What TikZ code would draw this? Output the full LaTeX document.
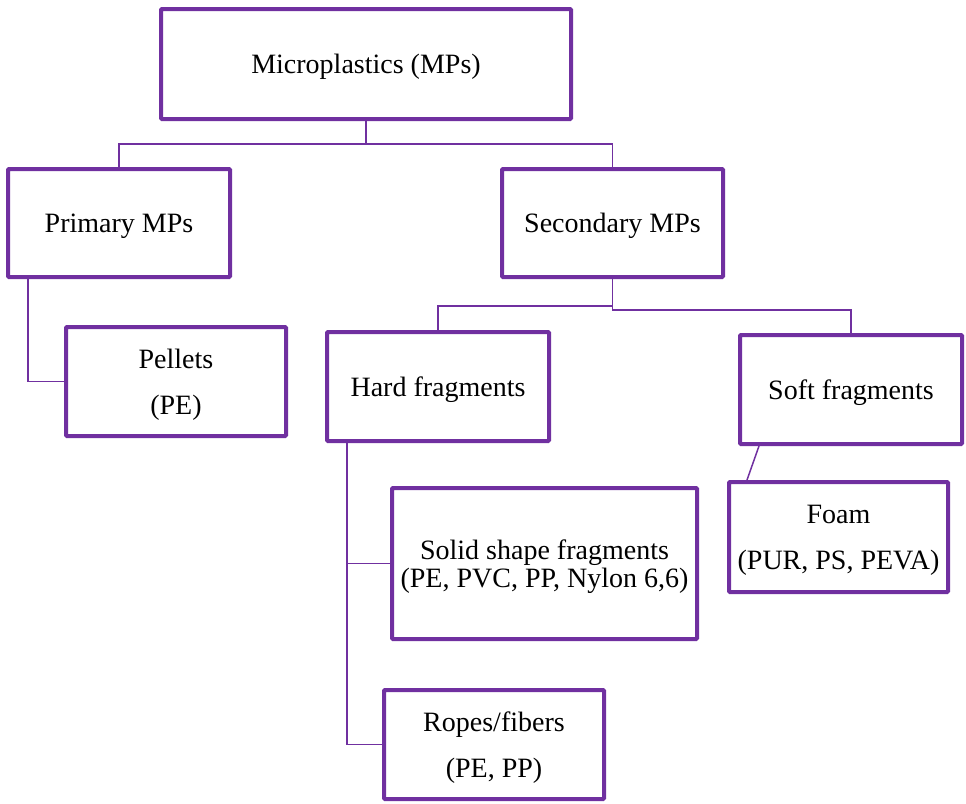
\documentclass[tikz,border=0pt]{standalone}
\usepackage{fontspec}
\setmainfont{Liberation Serif}
\usepackage{xcolor}
\usepackage{tikz}
\definecolor{mppurple}{HTML}{7030A0}
\newcommand{\two}[2]{#1\\[14pt]#2}

\begin{document}
\begin{tikzpicture}[
  x=1pt, y=-1pt,
  box/.style={draw=mppurple, line width=4pt, rounded corners=1pt, minimum width=222pt, minimum height=109pt, align=center, inner sep=0pt, text depth=0pt, font=\fontsize{28pt}{32pt}\selectfont\color{black}},
  link/.style={draw=mppurple, line width=1.5pt}
]
\useasboundingbox (0,0) rectangle (966,803);
\node[box, minimum width=410pt, minimum height=110pt] (mp) at (366,64) {Microplastics (MPs)};
\node[box, minimum height=108pt] (pri) at (119,223) {Primary MPs};
\node[box, minimum width=221pt, minimum height=108pt] (sec) at (612.5,223) {Secondary MPs};
\node[box, minimum width=220pt] (pel) at (176,381.5) {\two{Pellets}{(PE)}};
\node[box] (hard) at (438,386.5) {Hard fragments};
\node[box] (soft) at (851,389.5) {Soft fragments};
\node[box, minimum width=219pt, minimum height=110pt] (foam) at (838.5,537) {\two{Foam}{(PUR, PS, PEVA)}};
\node[box, minimum width=305pt, minimum height=151pt] (solid) at (544.5,563.5) {Solid shape fragments\\[-4pt](PE, PVC, PP, Nylon 6,6)};
\node[box, minimum width=220pt] (rope) at (494,744.5) {\two{Ropes/fibers}{(PE, PP)}};
\coordinate (h) at ([xshift=22pt]hard.south west);
\draw[link] (mp.south) -- ++(0,23) -| (pri.north);
\draw[link] (mp.south) -- ++(0,23) -| (sec.north);
\draw[link] ([xshift=22pt]pri.south west) |- (pel.west);
\draw[link] (sec.south) -- ++(0,27) -| (hard.north);
\draw[link] (sec.south) -- ++(0,31) -| (soft.north);
\draw[link] (h) |- (rope.west);
\draw[link] (solid.west) -- (solid.west -| h);
\draw[link] ([xshift=21pt]soft.south west) -- ([xshift=20pt]foam.north west);
\end{tikzpicture}
\end{document}
